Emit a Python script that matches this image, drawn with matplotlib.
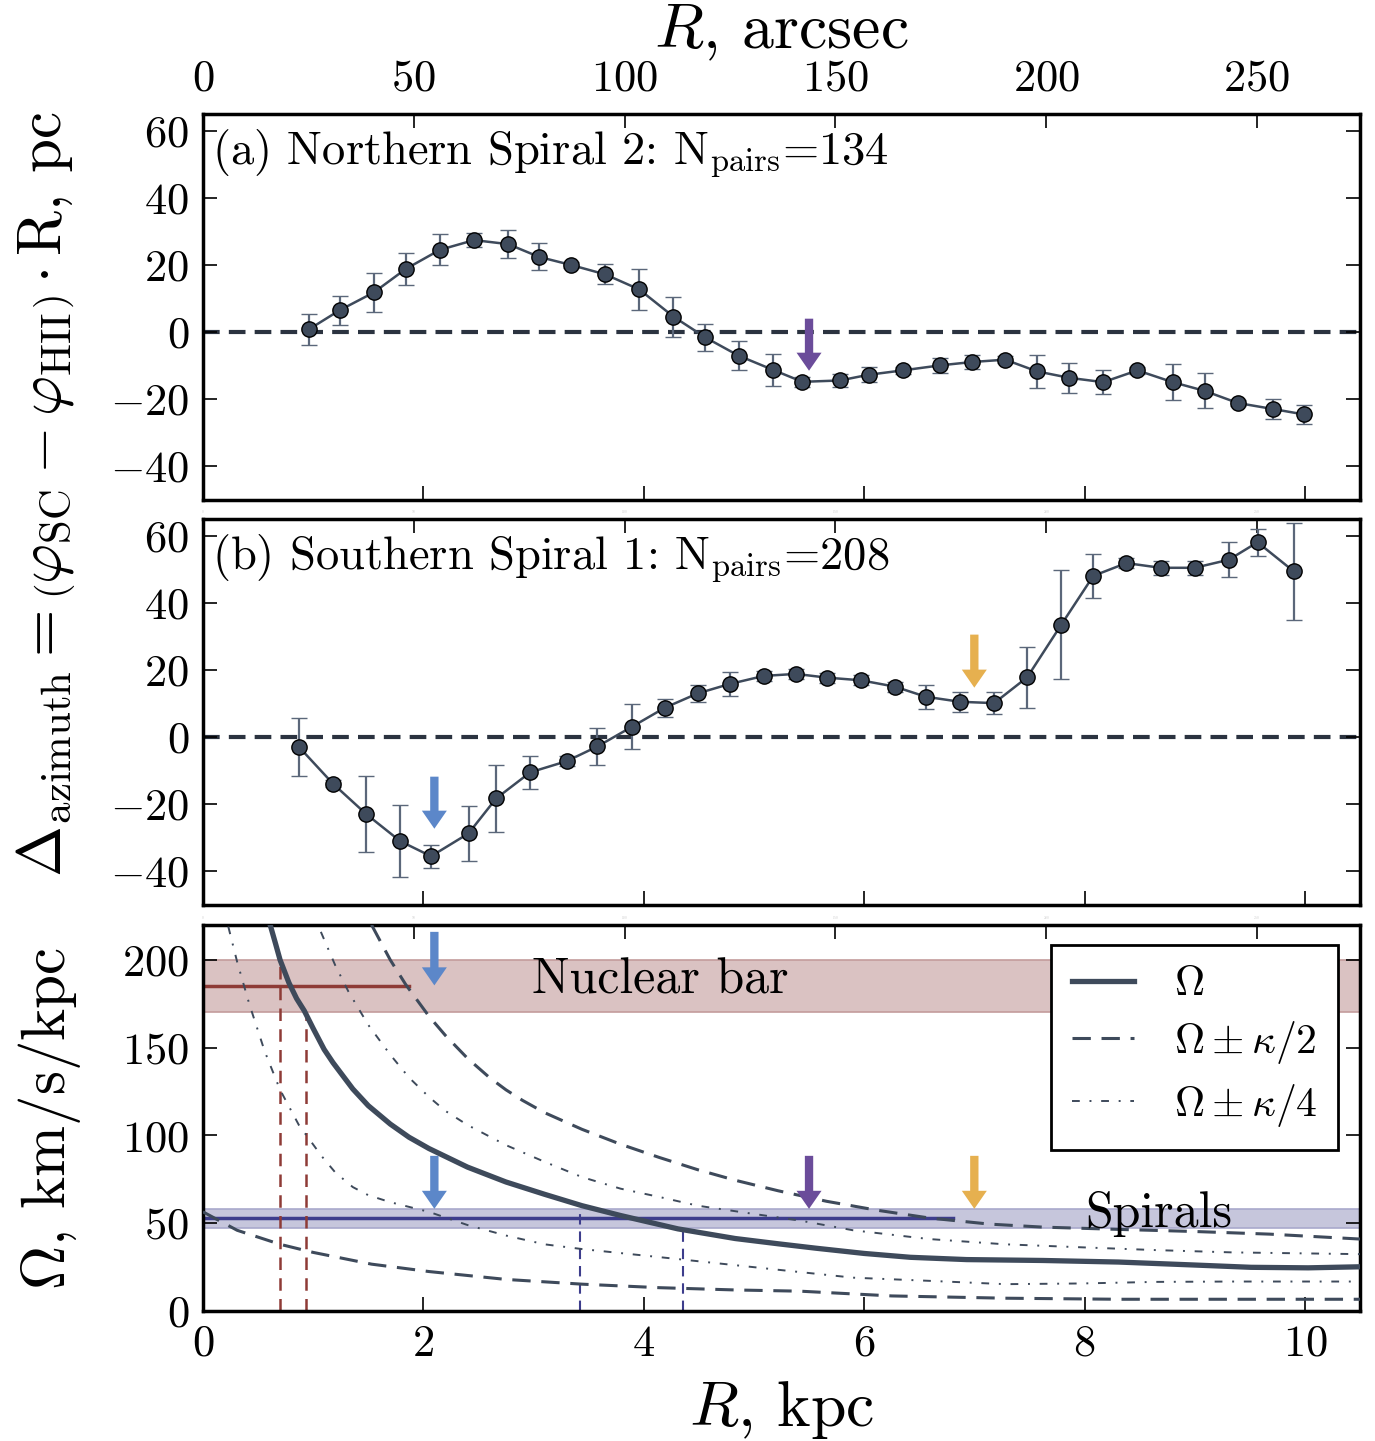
"""Azimuthal offsets along the spirals and pattern-speed diagram."""
import matplotlib
matplotlib.use("Agg")
import matplotlib.pyplot as plt

plt.rcParams["font.family"] = ["cmr10", "DejaVu Serif"]
plt.rcParams["mathtext.fontset"] = "cm"
plt.rcParams["axes.formatter.use_mathtext"] = True
plt.rcParams["axes.unicode_minus"] = True

ARCSEC_PER_KPC = 26.14

# (a) Northern Spiral 2
r_north = [0.96, 1.24, 1.55, 1.84, 2.15, 2.46, 2.77, 3.05, 3.34, 3.65, 3.96, 4.27, 4.56, 4.86, 5.17, 5.44,
           5.78, 6.04, 6.35, 6.69, 6.98, 7.28, 7.57, 7.86, 8.17, 8.48, 8.80, 9.09, 9.39, 9.71, 9.99]
d_north = [0.8, 6.5, 11.8, 18.8, 24.5, 27.4, 26.2, 22.4, 20.0, 17.2, 12.7, 4.6, -1.6, -7.0, -11.2, -14.8,
           -14.4, -12.7, -11.4, -9.9, -8.9, -8.2, -11.7, -13.6, -14.9, -11.4, -14.9, -17.5, -21.1, -22.9, -24.5]
e_north = [4.7, 4.4, 5.9, 4.8, 4.6, 2.0, 4.1, 4.0, 1.0, 3.0, 6.0, 6.0, 4.0, 4.4, 4.7, 1.5,
           2.0, 2.2, 1.0, 2.2, 2.2, 1.0, 4.8, 4.4, 3.6, 1.0, 5.3, 5.2, 1.0, 2.9, 2.8]

# (b) Southern Spiral 1
r_south = [0.87, 1.18, 1.48, 1.79, 2.07, 2.41, 2.66, 2.97, 3.30, 3.58, 3.89, 4.19, 4.49, 4.78, 5.09, 5.38,
           5.66, 5.97, 6.28, 6.56, 6.87, 7.18, 7.48, 7.79, 8.08, 8.38, 8.69, 9.00, 9.31, 9.57, 9.90]
d_south = [-2.9, -13.9, -22.9, -31.0, -35.5, -28.7, -18.3, -10.5, -7.2, -2.8, 3.0, 8.7, 13.0, 15.8, 18.2, 18.8,
           17.7, 16.9, 15.0, 12.0, 10.5, 10.1, 17.8, 33.5, 48.0, 51.8, 50.4, 50.4, 52.8, 58.0, 49.3]
e_south = [8.7, 1.0, 11.4, 10.7, 3.5, 8.1, 9.9, 4.9, 1.5, 5.4, 6.7, 2.6, 2.6, 3.6, 1.5, 1.5,
           1.5, 1.5, 1.5, 3.6, 3.0, 3.2, 9.1, 16.2, 6.6, 1.5, 2.0, 2.0, 5.2, 4.0, 14.4]

# (c) angular velocity curves, km/s/kpc
r_omega = [0.61, 0.66, 0.70, 0.78, 0.85, 0.92, 1.0, 1.10, 1.18, 1.36, 1.50, 1.70, 1.87, 2.05, 2.4, 2.75,
           3.1, 3.44, 3.79, 4.31, 4.83, 5.22, 5.56, 6.0, 6.42, 6.93, 7.62, 8.31, 9.0, 9.51, 10.03, 10.5]
omega = [220, 209, 200, 187, 178, 171, 161, 149, 141.5, 126.5, 117, 106.5, 99, 92.6, 82, 73.5,
         66.5, 60, 54.4, 46.8, 41.3, 38.3, 35.8, 32.8, 30.6, 29.3, 28.8, 27.9, 26.2, 24.9, 24.6, 25.2]
r_up2 = [1.53, 1.70, 1.84, 2.05, 2.2, 2.4, 2.6, 2.75, 2.9, 3.1, 3.44, 3.79, 4.14, 4.49, 4.83, 5.22,
         5.66, 6.11, 6.59, 7.14, 7.62, 8.31, 9.0, 9.68, 10.5]
up2 = [220, 200, 186, 168, 157, 144, 133, 126, 120, 113, 103.5, 95, 87.5, 80.5, 74.5, 68.5,
       62.5, 57.5, 53, 49.5, 47.8, 46.5, 45.3, 43.8, 41]
r_lo2 = [0.0, 0.31, 0.70, 1.0, 1.53, 2.05, 2.75, 3.44, 4.14, 4.83, 5.42, 6.25, 7.28, 8.31, 9.34, 10.5]
lo2 = [56.5, 46, 38, 33.4, 26.7, 22.5, 18, 15.3, 13.3, 12, 11.3, 8.6, 7.3, 6.7, 6.7, 6.7]
r_up4 = [1.07, 1.2, 1.32, 1.5, 1.7, 1.87, 2.05, 2.2, 2.4, 2.75, 3.1, 3.44, 3.79, 4.14, 4.49, 5.0,
         5.42, 5.9, 6.59, 7.28, 7.97, 8.65, 9.34, 10.5]
up4 = [216, 197, 182, 163, 146, 133, 122, 114, 106, 94.5, 85, 76.3, 69.7, 65, 60, 55.3,
       51.5, 46, 41, 38, 36.3, 34.7, 33.4, 32.4]
r_lo4 = [0.23, 0.31, 0.42, 0.56, 0.70, 0.87, 1.08, 1.2, 1.36, 1.5, 1.70, 2.05, 2.4, 2.75, 3.1, 3.44,
         4.31, 5.22, 5.9, 6.59, 7.28, 7.97, 8.65, 9.34, 10.5]
lo4 = [219, 199, 175, 148, 126, 106, 88, 79, 70.6, 66, 62, 56.5, 49, 43, 38, 35.3,
       29.6, 23.5, 19, 17.2, 15.3, 15.7, 16.6, 16.8, 16.8]

bar_band = (170.5, 200.0)
bar_speed = 185.0
bar_cr = [0.70, 0.935]
spiral_band = (47.5, 58.0)
spiral_speed = 53.0
spiral_cr = [3.42, 4.36]

DARK = "#3e4a5b"
ERR = "#5b677a"
PURPLE = "#6b4c9a"
BLUE = "#5c87c9"
ORANGE = "#e6b04f"
RED = "#8e3b36"
NAVY = "#3d3d8c"

fig = plt.figure(figsize=(13.75, 14.41), dpi=100)
L, W, H = 0.1476, 0.8415, 0.2680
ax_a = fig.add_axes([L, 0.6530, W, H])
ax_b = fig.add_axes([L, 0.3720, W, H])
ax_c = fig.add_axes([L, 0.0902, W, H])


def style(ax, show_x, show_top):
    ax.set_xlim(0, 10.5)
    ax.set_xticks([0, 2, 4, 6, 8, 10])
    ax.tick_params(direction="in", length=10, width=1.2, labelsize=32, pad=10,
                   right=True, top=False, labelbottom=show_x)
    for s in ax.spines.values():
        s.set_linewidth(2.5)
    sec = ax.secondary_xaxis("top", functions=(lambda k: k * ARCSEC_PER_KPC,
                                               lambda a: a / ARCSEC_PER_KPC))
    sec.set_xticks([0, 50, 100, 150, 200, 250])
    if show_top:
        sec.tick_params(direction="in", length=10, width=1.2, labelsize=32, pad=10)
    else:
        # faint leftover labels between the panels
        sec.tick_params(direction="in", length=10, width=1.2, labelsize=2.5, pad=3,
                        labelcolor="#c8c8c8")
    return sec


def profile(ax, r, d, e, label):
    ax.axhline(0, color="#2b3340", lw=3, dashes=(4, 2.2), zorder=1)
    ax.errorbar(r, d, yerr=e, fmt="o-", color=DARK, ecolor=ERR, elinewidth=1.6, capsize=6,
                capthick=1.6, lw=1.8, ms=11, mfc=DARK, mec="black", mew=1.0, zorder=3)
    ax.set_ylim(-50, 65)
    ax.set_yticks([-40, -20, 0, 20, 40, 60])
    ax.text(0.008, 0.965, label, transform=ax.transAxes, ha="left", va="top", fontsize=33.5)


def arrow(ax, x, y0, y1, color):
    ax.annotate("", xy=(x, y1), xytext=(x, y0),
                arrowprops=dict(arrowstyle="simple,head_length=0.65,head_width=0.9,tail_width=0.3",
                                color=color, lw=0, shrinkA=0, shrinkB=0, mutation_scale=20),
                zorder=5)


sec_a = style(ax_a, False, True)
sec_a.set_xlabel("$R$, arcsec", fontsize=46, labelpad=8)
style(ax_b, False, False)
style(ax_c, True, False)

profile(ax_a, r_north, d_north, e_north, r"(a) Northern Spiral 2: N$_{\rm pairs}$=134")
profile(ax_b, r_south, d_south, e_south, r"(b) Southern Spiral 1: N$_{\rm pairs}$=208")
arrow(ax_a, 5.5, 4.0, -11.5, PURPLE)
arrow(ax_b, 2.1, -11.8, -27.3, BLUE)
arrow(ax_b, 7.0, 30.5, 14.7, ORANGE)

# (c)
ax_c.set_ylim(0, 220)
ax_c.set_yticks([0, 50, 100, 150, 200])
ax_c.axhspan(*bar_band, facecolor="#dac2c2", edgecolor="#c49c9c", lw=1.2, zorder=1)
ax_c.axhspan(*spiral_band, facecolor="#c6c6dc", edgecolor="#a9a9cc", lw=1.2, zorder=1)
ax_c.plot([0, 1.87], [bar_speed, bar_speed], color=RED, lw=2.5, zorder=2)
ax_c.plot([0, 6.81], [spiral_speed, spiral_speed], color=NAVY, lw=2.5, zorder=2)
ax_c.plot([bar_cr[0]] * 2, [0, bar_band[1]], color=RED, lw=1.8, dashes=(5, 3.3), zorder=2)
ax_c.plot([bar_cr[1]] * 2, [0, bar_band[0]], color=RED, lw=1.8, dashes=(5, 3.3), zorder=2)
ax_c.plot([spiral_cr[0]] * 2, [0, spiral_band[1]], color=NAVY, lw=1.5, dashes=(5, 3.3), zorder=2)
ax_c.plot([spiral_cr[1]] * 2, [0, spiral_band[0]], color=NAVY, lw=1.5, dashes=(5, 3.3), zorder=2)

ax_c.plot(r_omega, omega, color=DARK, lw=3.8, label=r"$\Omega$", zorder=3)
ax_c.plot(r_up2, up2, color=DARK, lw=2.2, dashes=(6, 3.5), label=r"$\Omega \pm \kappa/2$", zorder=3)
ax_c.plot(r_lo2, lo2, color=DARK, lw=2.2, dashes=(6, 3.5), zorder=3)
ax_c.plot(r_up4, up4, color=DARK, lw=1.4, dashes=(4, 5, 1, 5), label=r"$\Omega \pm \kappa/4$", zorder=3)
ax_c.plot(r_lo4, lo4, color=DARK, lw=1.4, dashes=(4, 5, 1, 5), zorder=3)

ax_c.text(4.15, 188, "Nuclear bar", ha="center", va="center", fontsize=36, zorder=4)
ax_c.text(8.67, 55.5, "Spirals", ha="center", va="center", fontsize=36, zorder=4)

arrow(ax_c, 2.1, 216, 185.5, BLUE)
arrow(ax_c, 2.1, 88.4, 58.2, BLUE)
arrow(ax_c, 5.5, 88.4, 58.2, PURPLE)
arrow(ax_c, 7.0, 88.4, 58.2, ORANGE)

leg = ax_c.legend(loc="upper right", bbox_to_anchor=(0.981, 0.948), fontsize=30, frameon=True,
                  fancybox=False, framealpha=1, edgecolor="black", handlelength=1.5,
                  handletextpad=0.95, borderpad=0.5, labelspacing=0.38, borderaxespad=0)
leg.get_frame().set_linewidth(2)
leg.set_zorder(6)

ax_c.set_xlabel("$R$, kpc", fontsize=46, labelpad=10)
fig.text(0.033, 0.657, r"$\Delta_{\rm azimuth} = \left(\varphi_{\rm SC} - \varphi_{\rm HII}\right) \cdot {\rm R}$, pc",
         rotation=90, ha="center", va="center", fontsize=44)
fig.text(0.036, 0.224, r"$\Omega$, km/s/kpc", rotation=90, ha="center", va="center", fontsize=44)

fig.savefig("out.png", dpi=100)
